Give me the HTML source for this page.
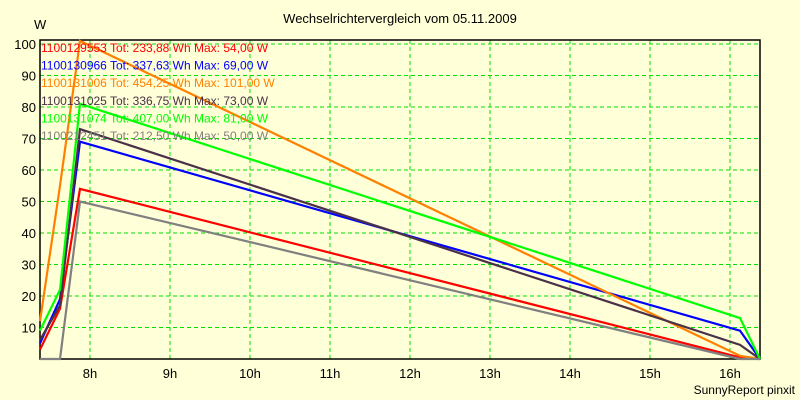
<!DOCTYPE html>
<html><head><meta charset="utf-8"><style>
body{margin:0;background:#ffffd8;}
svg{display:block;font-family:"Liberation Sans",sans-serif;}
</style></head><body>
<svg id="chart" width="800" height="400">
<rect x="0" y="0" width="800" height="400" fill="#ffffd8"/>
<text x="400" y="23" text-anchor="middle" font-size="13">Wechselrichtervergleich vom 05.11.2009</text>
<text x="34" y="29" font-size="13">W</text>
<text x="795" y="394" text-anchor="end" font-size="12">SunnyReport pinxit</text>
<g id="grid"></g><g id="axes"></g><g id="series"></g><g id="legend"></g>
</svg>
<script>
const hours=[8,9,10,11,12,13,14,15,16];
const yTicks=[10,20,30,40,50,60,70,80,90,100];
const times=[7.375,7.625,7.875,16.125,16.375];
const names=["1100129553","1100130966","1100131006","1100131025","1100131074","1100212451"];
const totals=["233,88","337,63","454,25","336,75","407,00","212,50"];
const maxes=["54,00","69,00","101,00","73,00","81,00","50,00"];
const colors=["#ff0000","#0000ff","#ff8000","#4a3048","#00ff00","#808080"];
const sRed=[3,16,54,0.5,0];
const sBlue=[5,19,69,9,0];
const sOrange=[12,55,101,1,0];
const sDark=[6,17,73,4.5,0];
const sGreen=[9,22,81,13,0];
const sGray=[0,0,50,0,0];
const series=[sRed,sBlue,sOrange,sDark,sGreen,sGray];
const NS="http://www.w3.org/2000/svg";
const x=t=>90+(t-8)*80;
const y=v=>359-v*3.15;
function mk(tag,attrs,parent){const e=document.createElementNS(NS,tag);for(const k in attrs)e.setAttribute(k,attrs[k]);document.getElementById(parent).appendChild(e);return e;}
yTicks.forEach(v=>{
 const l=mk("line",{x1:40,x2:760,y1:y(v),y2:y(v),stroke:"#00e000","stroke-dasharray":"4,3"},"grid");
 
 
 const t=mk("text",{x:36,y:y(v)+5,"text-anchor":"end","font-size":"13"},"axes");
 t.textContent=v;
 
 
});
hours.forEach(h=>{
 const l=mk("line",{x1:x(h),x2:x(h),y1:40,y2:359,stroke:"#00e000","stroke-dasharray":"4,3"},"grid");
 
 
 const t=mk("text",{x:x(h),y:378,"text-anchor":"middle","font-size":"13"},"axes");
 t.textContent=h+"h";
 
 
});
const fr=mk("rect",{x:40,y:40,width:720,height:319,fill:"none",stroke:"#000","stroke-width":1.5},"axes");


series.forEach((s,i)=>{
 const p=mk("polyline",{points:s.map((v,j)=>x(times[j])+","+y(v)).join(" "),fill:"none",stroke:colors[i],"stroke-width":2.2},"series");
 
 
 const t=mk("text",{x:41,y:52+i*17.6,"font-size":"12",fill:colors[i]},"legend");
 t.textContent=names[i]+" Tot: "+totals[i]+" Wh Max: "+maxes[i]+" W";
 
 
});
</script>
</body></html>
